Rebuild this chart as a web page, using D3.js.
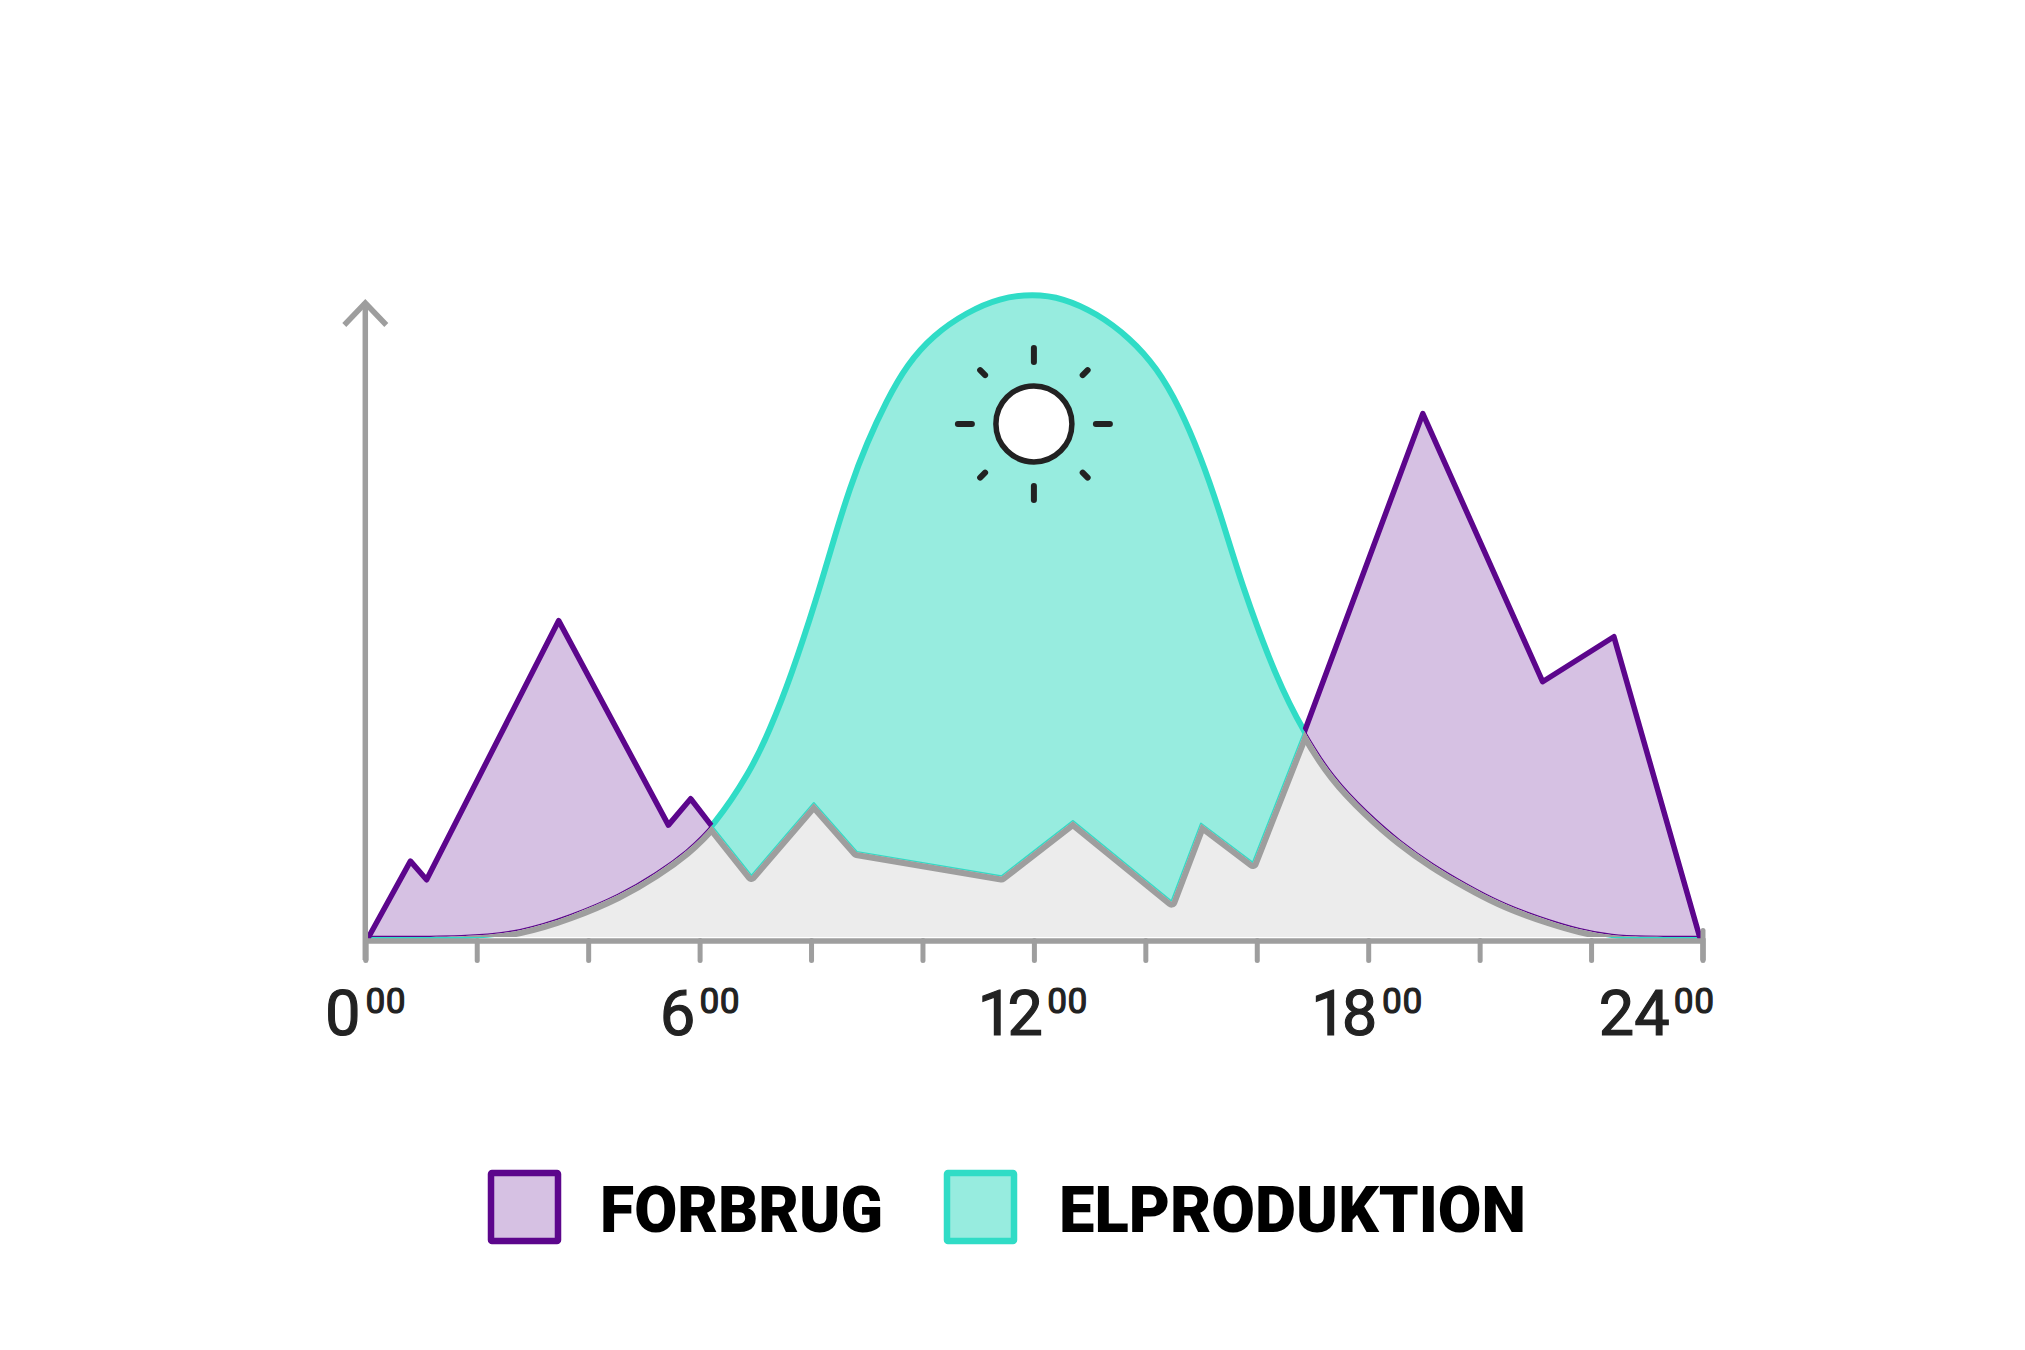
<!DOCTYPE html>
<html>
<head>
<meta charset="utf-8">
<title>Forbrug og elproduktion</title>
<script src="https://cdn.jsdelivr.net/npm/d3@7"></script>
<style>
  html, body { margin: 0; padding: 0; background: #fff; }
  svg { display: block; }
</style>
</head>
<body>
<svg id="chart"></svg>
<script>
// Values: hours of the day, height in % of the production peak
const forbrugHours = [0.06, 0.81, 1.10, 3.47, 5.44, 5.84, 6.24, 6.93, 8.05, 8.82, 11.42, 12.70, 14.47, 15.0, 15.93, 16.85, 18.98, 21.13, 22.41, 23.95];
const forbrugValues = [0, 11.8, 8.9, 49.2, 17.4, 21.5, 17.0, 9.5, 20.8, 13.2, 9.4, 18.0, 5.5, 17.6, 11.5, 31.8, 81.4, 39.7, 46.7, 0];

const elHours = [0.06, 1.88, 2.78, 3.67, 4.57, 5.23, 5.77, 6.24, 6.9, 7.26, 7.64, 8.11, 8.39, 8.70, 9.0, 9.36, 9.72, 10.19, 10.80, 11.39, 11.98, 12.52, 13.13, 13.72, 14.21, 14.62, 14.98, 15.34, 15.73, 16.36, 16.85, 17.37, 17.98, 18.57, 19.16, 19.77, 20.36, 20.90, 21.2, 21.8, 22.39, 22.88, 23.95];
const elValues = [0, 0, 0.8, 3.2, 6.5, 9.9, 13.3, 17.1, 25.5, 32.2, 40.5, 52.9, 61.3, 70, 76.8, 83.5, 89, 93.6, 97.2, 99.4, 100, 99.4, 97, 93.2, 88.5, 82.3, 75, 66.1, 54.7, 40, 31.8, 24.7, 19.3, 14.8, 11.2, 8.1, 5.4, 3.6, 2.7, 1.1, 0.2, 0, 0];

const tickHours = [0, 2, 4, 6, 8, 10, 12, 14, 16, 18, 20, 22, 24];
const labelHours = [0, 6, 12, 18, 24];
const labelSuffix = "00";
const legendNames = ["FORBRUG", "ELPRODUKTION"];

const width = 2025;
const height = 1350;

const purple = "#5c068c";
const purpleFill = "#d6c1e3";
const teal = "#30dcc6";
const tealFill = "#97ecdf";
const grey = "#9e9e9e";
const greyFill = "#ececec";
const ink = "#222222";

const forbrug = forbrugHours.map((h, i) => ({ h: h, v: forbrugValues[i] }));
const el = elHours.map((h, i) => ({ h: h, v: elValues[i] }));

const svg = d3.select("#chart").attr("width", width).attr("height", height);

const x = d3.scaleLinear().domain([0, 24]).range([365.3, 1702.5]);
const y = d3.scaleLinear().domain([0, 100]).range([937, 294]);

const forbrugLine = d3.line().x((d) => x(d.h)).y((d) => y(d.v));
const elLine = d3.line().x((d) => x(d.h)).y((d) => y(d.v)).curve(d3.curveBasis);
const forbrugArea = d3.area().x((d) => x(d.h)).y0(y(0)).y1((d) => y(d.v));
const elArea = d3.area().x((d) => x(d.h)).y0(y(0)).y1((d) => y(d.v)).curve(d3.curveBasis);

// Clips: inside each area, and everything outside it
const defs = svg.append("defs");
const page = `M0 0H${width}V${height}H0Z`;
defs.append("clipPath").attr("id", "in-forbrug").append("path").attr("d", forbrugArea(forbrug));
defs.append("clipPath").attr("id", "in-el").append("path").attr("d", elArea(el));
defs.append("clipPath").attr("id", "out-forbrug").append("path")
  .attr("clip-rule", "evenodd").attr("d", page + forbrugArea(forbrug));
defs.append("clipPath").attr("id", "out-el").append("path")
  .attr("clip-rule", "evenodd").attr("d", page + elArea(el));

function stroke(parent, d, color, w, clip) {
  return parent.append("path")
    .attr("d", d)
    .attr("fill", "none")
    .attr("stroke", color)
    .attr("stroke-width", w)
    .attr("stroke-linejoin", "round")
    .attr("stroke-linecap", "round")
    .attr("clip-path", clip ? `url(#${clip})` : null);
}

// Filled shapes
svg.append("path").attr("d", forbrugArea(forbrug)).attr("fill", purpleFill);
svg.append("path").attr("d", elArea(el)).attr("fill", tealFill);

// Outer outlines, only where each curve is the upper one
stroke(svg, elLine(el), teal, 6, "out-forbrug");
stroke(svg, forbrugLine(forbrug), purple, 5.5, "out-el");

// Thin edges along the overlap
stroke(svg, elLine(el), purple, 2.4, "in-forbrug");
stroke(svg, forbrugLine(forbrug), teal, 2.4, "in-el");

// Overlap of the two areas, nested clips give the intersection
const overlap = svg.append("g").attr("clip-path", "url(#in-el)")
  .append("g").attr("clip-path", "url(#in-forbrug)");
overlap.append("path").attr("d", forbrugArea(forbrug)).attr("fill", greyFill);
stroke(overlap, forbrugLine(forbrug), grey, 12);
stroke(overlap, elLine(el), grey, 12);

// Axes
const xAxis = d3.axisBottom(x).tickValues(tickHours).tickSize(20).tickFormat("");
const axisG = svg.append("g").attr("transform", "translate(0,940.5)").call(xAxis);
axisG.select(".domain").attr("stroke", grey).attr("stroke-width", 5.5);
axisG.selectAll(".tick line")
  .attr("stroke", grey)
  .attr("stroke-width", 5)
  .attr("stroke-linecap", "round")
  .attr("y1", (d) => (d === 24 ? -10 : 0)); // last tick pokes up above the axis

svg.append("line")
  .attr("x1", x(0)).attr("x2", x(0))
  .attr("y1", 302).attr("y2", 960)
  .attr("stroke", grey).attr("stroke-width", 5.5);
svg.append("path")
  .attr("d", `M${x(0) - 21},325L${x(0)},303L${x(0) + 21},325`)
  .attr("fill", "none").attr("stroke", grey).attr("stroke-width", 5.5);

// Tick labels with raised minutes, 24 is pulled in from the edge as in the original
const labels = svg.append("g").selectAll("text")
  .data(labelHours)
  .join("text")
  .attr("x", (d) => x(d) + (d === 24 ? -46 : 0))
  .attr("y", 1035)
  .attr("text-anchor", "middle")
  .attr("font-family", "Roboto")
  .attr("font-size", 63)
  .style("font-feature-settings", '"pnum"')
  .attr("fill", ink)
  .attr("stroke", ink)
  .attr("stroke-width", 1.2);
labels.append("tspan").text((d) => d);
labels.append("tspan")
  .attr("dx", 4)
  .attr("dy", -22)
  .attr("font-size", 35)
  .text(labelSuffix);

// Sun
const sun = svg.append("g").attr("transform", `translate(${x(12)},${y(79.8)})`);
d3.range(8).forEach((i) => {
  const inner = i % 2 === 0 ? 62 : 69;
  const outer = i % 2 === 0 ? 76 : 76;
  const a = (i * Math.PI) / 4;
  sun.append("line")
    .attr("x1", inner * Math.cos(a)).attr("y1", inner * Math.sin(a))
    .attr("x2", outer * Math.cos(a)).attr("y2", outer * Math.sin(a))
    .attr("stroke", ink).attr("stroke-width", 6).attr("stroke-linecap", "round");
});
sun.append("circle").attr("r", 38).attr("fill", "#fff").attr("stroke", ink).attr("stroke-width", 5.5);

// Legend
const legendX = [491, 947];
const legendStroke = [purple, teal];
const legendFill = [purpleFill, tealFill];
const legendTextX = [600, 1059];
const legendTextW = [283, 467];

const legend = svg.append("g").selectAll("g").data(legendNames).join("g");
legend.append("rect")
  .attr("x", (d, i) => legendX[i])
  .attr("y", 1173)
  .attr("width", 67)
  .attr("height", 68)
  .attr("rx", 1)
  .attr("fill", (d, i) => legendFill[i])
  .attr("stroke", (d, i) => legendStroke[i])
  .attr("stroke-width", 6.5);
legend.append("text")
  .attr("x", (d, i) => legendTextX[i])
  .attr("y", 1232)
  .attr("font-family", "Roboto")
  .attr("font-weight", 900)
  .attr("font-size", 64)
  .attr("fill", "#000")
  .attr("textLength", (d, i) => legendTextW[i])
  .attr("lengthAdjust", "spacingAndGlyphs")
  .text((d) => d);
</script>
</body>
</html>
